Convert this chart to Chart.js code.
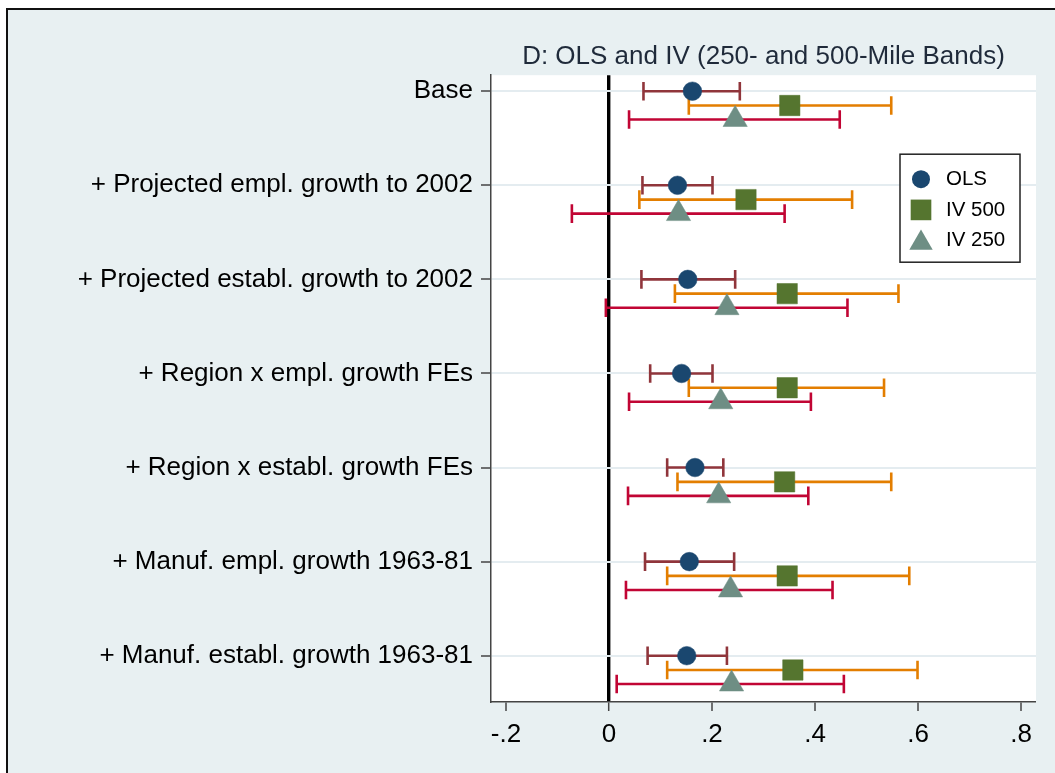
<!DOCTYPE html>
<html><head><meta charset="utf-8">
<script src="https://cdn.jsdelivr.net/npm/chart.js@4/dist/chart.umd.min.js"></script>
<style>
html,body{margin:0;padding:0;background:#fff;}
#wrap{position:relative;width:1055px;height:773px;overflow:hidden;}
#frame{position:absolute;left:6px;top:8px;width:1080px;height:800px;border-top:2px solid #111;border-left:2px solid #111;background:#e8f0f2;}
canvas{position:absolute;left:0;top:0;}
</style></head><body>
<div id="wrap"><div id="frame"></div><canvas id="c" width="1055" height="773"></canvas></div>
<script>
// ---- data ----
const categories = [
  "Base",
  "+ Projected empl. growth to 2002",
  "+ Projected establ. growth to 2002",
  "+ Region x empl. growth FEs",
  "+ Region x establ. growth FEs",
  "+ Manuf. empl. growth 1963-81",
  "+ Manuf. establ. growth 1963-81"
];
const seriesNames = ["OLS", "IV 500", "IV 250"];
const olsEst   = [0.162, 0.133, 0.153, 0.141, 0.167, 0.156, 0.151];
const olsLo    = [0.067, 0.065, 0.063, 0.080, 0.113, 0.070, 0.075];
const olsHi    = [0.254, 0.201, 0.245, 0.201, 0.222, 0.243, 0.229];
const iv500Est = [0.351, 0.266, 0.346, 0.346, 0.341, 0.346, 0.357];
const iv500Lo  = [0.155, 0.059, 0.128, 0.155, 0.133, 0.113, 0.113];
const iv500Hi  = [0.548, 0.472, 0.562, 0.534, 0.548, 0.583, 0.599];
const iv250Est = [0.245, 0.135, 0.229, 0.217, 0.213, 0.236, 0.238];
const iv250Lo  = [0.039, -0.072, -0.006, 0.039, 0.037, 0.033, 0.015];
const iv250Hi  = [0.448, 0.341, 0.463, 0.392, 0.387, 0.434, 0.456];
const xTicks      = [-0.2, 0, 0.2, 0.4, 0.6, 0.8];
const xTickLabels = ["-.2", "0", ".2", ".4", ".6", ".8"];
const titleText = "D: OLS and IV (250- and 500-Mile Bands)";

// ---- styling ----
const FONT = "'Liberation Sans', Arial, sans-serif";
const markerColors = ["#1a476f", "#55752f", "#6e8e84"];
const ciColors     = ["#90353b", "#e37e00", "#c10534"];
const markerStyles = ["circle", "rect", "triangle"];
const markerRadii  = [9.3, 14.4, 14];
const rowOffset    = [0, 0.152, 0.301];

const ests = [olsEst, iv500Est, iv250Est];
const los  = [olsLo, iv500Lo, iv250Lo];
const his  = [olsHi, iv500Hi, iv250Hi];

const datasets = [];
seriesNames.forEach((name, s) => {
  datasets.push({
    label: name, isMarker: true, order: 0,
    data: ests[s].map((v, i) => ({ x: v, y: i + 1 + rowOffset[s] })),
    pointStyle: markerStyles[s], pointRadius: markerRadii[s],
    backgroundColor: markerColors[s], borderColor: markerColors[s],
    pointBorderWidth: 0.5, showLine: false
  });
});
seriesNames.forEach((name, s) => {
  const d = [];
  los[s].forEach((lo, i) => {
    const y = i + 1 + rowOffset[s];
    d.push({ x: lo, y }, { x: his[s][i], y }, { x: NaN, y: NaN });
  });
  datasets.push({
    label: name + " CI", isMarker: false, order: 1,
    data: d, showLine: true, spanGaps: false,
    borderColor: ciColors[s], borderWidth: 2.6,
    pointStyle: 'line', pointRadius: 9.3, pointRotation: 90,
    pointBorderColor: ciColors[s], pointBorderWidth: 2.6,
    backgroundColor: ciColors[s]
  });
});

function drawMarker(ctx, style, r, x, y, color) {
  ctx.fillStyle = color;
  ctx.beginPath();
  if (style === 'circle') {
    ctx.arc(x, y, r, 0, Math.PI * 2);
  } else if (style === 'rect') {
    const h = r * Math.SQRT1_2;
    ctx.rect(x - h, y - h, 2 * h, 2 * h);
  } else {
    ctx.moveTo(x, y - r);
    ctx.lineTo(x + r * Math.sin(2 * Math.PI / 3), y + r / 2);
    ctx.lineTo(x - r * Math.sin(2 * Math.PI / 3), y + r / 2);
    ctx.closePath();
  }
  ctx.fill();
}

const bgPlugin = {
  id: 'plotBg',
  beforeDraw(chart) {
    const { ctx, chartArea: a } = chart;
    ctx.save();
    ctx.fillStyle = '#ffffff';
    ctx.fillRect(a.left, a.top, a.right - a.left, a.bottom - a.top);
    ctx.restore();
  }
};

const legendPlugin = {
  id: 'boxLegend',
  afterDatasetsDraw(chart) {
    const { ctx, chartArea: a } = chart;
    const w = 120, h = 108;
    const right = a.right - 16, top = a.top + 79;
    const left = right - w;
    ctx.save();
    ctx.fillStyle = '#ffffff';
    ctx.fillRect(left, top, w, h);
    ctx.strokeStyle = '#222';
    ctx.lineWidth = 1.5;
    ctx.strokeRect(left, top, w, h);
    const items = chart.data.datasets.filter(d => d.isMarker);
    items.forEach((d, i) => {
      const y = top + 25 + i * 30.7;
      const dy = d.pointStyle === 'triangle' ? 2.5 : 0;
      const r = d.pointStyle === 'circle' ? 9 : (d.pointStyle === 'rect' ? 14.6 : 13.5);
      drawMarker(ctx, d.pointStyle, r, left + 21, y + dy, d.backgroundColor);
      ctx.fillStyle = '#000';
      ctx.font = "20.5px " + FONT;
      ctx.textBaseline = 'middle';
      ctx.textAlign = 'left';
      ctx.fillText(d.label, left + 46, y);
    });
    ctx.restore();
  }
};

new Chart(document.getElementById('c'), {
  type: 'scatter',
  data: { datasets },
  plugins: [bgPlugin, legendPlugin],
  options: {
    responsive: false, animation: false, devicePixelRatio: 1, events: [],
    layout: { padding: { top: 41, right: 19, left: 0, bottom: 0 } },
    plugins: {
      legend: { display: false },
      tooltip: { enabled: false },
      title: {
        display: true, text: titleText, fullSize: false, color: '#1f2a3a',
        font: { family: FONT, size: 26, weight: 'normal' },
        padding: { top: 0, bottom: 3 }
      }
    },
    scales: {
      x: {
        type: 'linear', position: 'bottom', min: -0.229, max: 0.829,
        afterBuildTicks: s => { s.ticks = xTicks.map(v => ({ value: v })); },
        afterFit: s => { s.height = 71; },
        ticks: {
          color: '#000', font: { family: FONT, size: 26 }, padding: 8, maxRotation: 0,
          callback: v => xTickLabels[xTicks.findIndex(t => Math.abs(t - v) < 1e-9)]
        },
        grid: {
          color: c => (c.tick && Math.abs(c.tick.value) < 1e-9) ? '#000' : 'rgba(0,0,0,0)',
          lineWidth: c => (c.tick && Math.abs(c.tick.value) < 1e-9) ? 3.4 : 0,
          drawTicks: true, tickLength: 9, tickColor: '#444', tickWidth: 1.5
        },
        border: { color: '#444', width: 1.5 }
      },
      y: {
        type: 'linear', position: 'left', reverse: true, min: 0.83, max: 7.492,
        afterBuildTicks: s => { s.ticks = categories.map((c, i) => ({ value: i + 1 })); },
        afterFit: s => { s.width = 491; },
        ticks: {
          color: '#000', font: { family: FONT, size: 26 }, padding: 8,
          callback: v => categories[Math.round(v) - 1]
        },
        grid: { color: '#e4ecf0', lineWidth: 2, drawTicks: true, tickLength: 10, tickColor: '#444', tickWidth: 1.5 },
        border: { color: '#444', width: 1.5 }
      }
    }
  }
});
</script>
</body></html>
